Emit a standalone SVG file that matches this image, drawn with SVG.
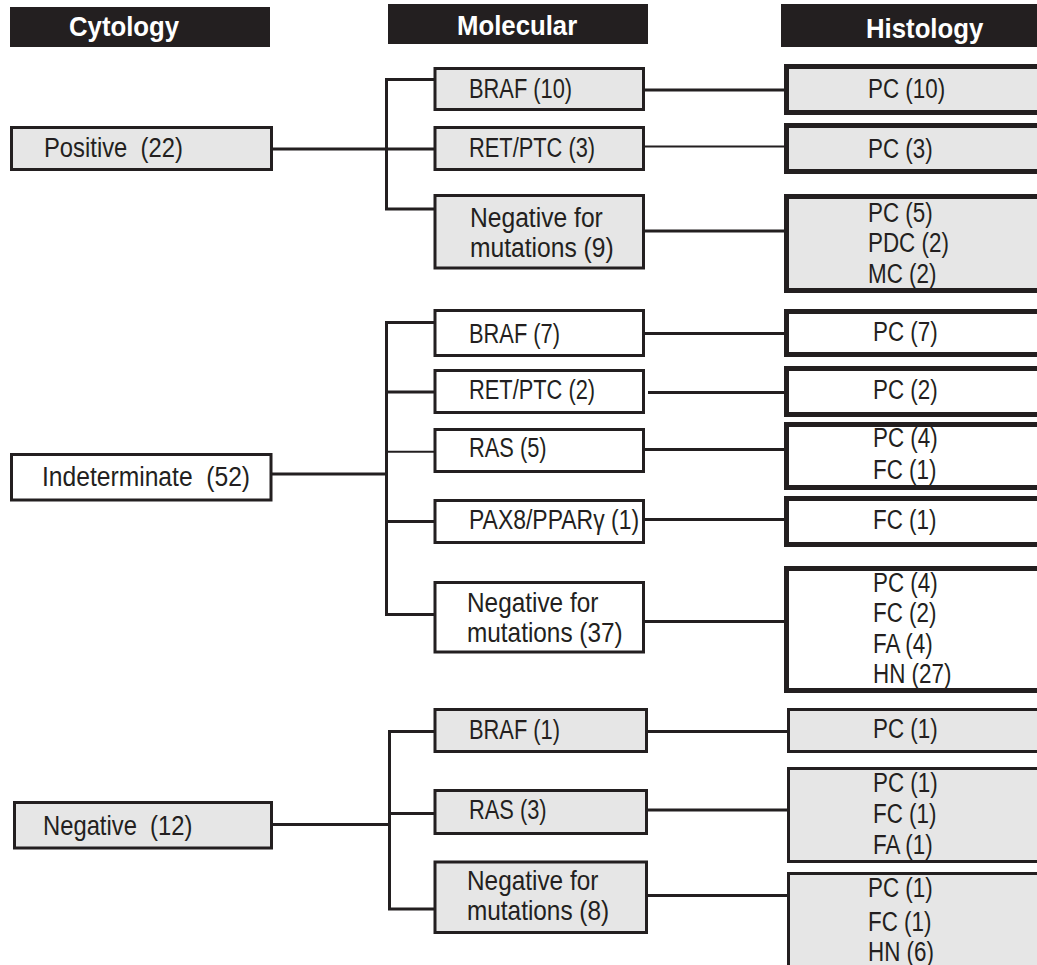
<svg xmlns="http://www.w3.org/2000/svg" width="1037" height="965" viewBox="0 0 1037 965">
<style>
.hdr{fill:#231f20}
.ht{font-family:"Liberation Sans",Arial,sans-serif;font-weight:bold;font-size:28px;fill:#ffffff}
.t{font-family:"Liberation Sans",Arial,sans-serif;font-size:28px;fill:#231f20}
.g{fill:#e6e6e6}
.w{fill:#ffffff}
.b3{stroke:#231f20;stroke-width:3}
.b5{stroke:#231f20;stroke-width:5}
.c{fill:none;stroke:#231f20;stroke-width:3}
.c2{fill:none;stroke:#231f20;stroke-width:2}
</style>
<rect width="1037" height="965" fill="#ffffff"/>
<g id="connectors">
<path class="c" d="M271.5 149 H435 M435 79.5 H386.5 V209 H435"/>
<path class="c" d="M643.5 90 H786.5 M643.5 231 H786.5"/>
<path class="c2" d="M643.5 146.5 H786.5"/>
<path class="c" d="M271 474 H386.5 M435 322.5 H386.5 V614.5 H435 M386.5 392 H435 M386.5 521.5 H435"/>
<path class="c2" d="M386.5 451.8 H435"/>
<path class="c" d="M643.5 333.5 H786.5 M648 392.5 H786.5 M643.5 449.5 H786.5 M643.5 519.5 H786.5 M643.5 621.5 H786.5"/>
<path class="c" d="M271.5 824.5 H389.5 M435 731.5 H389.5 V909 H435 M389.5 813.5 H435"/>
<path class="c" d="M646.5 731.5 H788.5 M646.5 810 H788.5 M646.5 895.5 H788.5"/>
</g>
<g id="hdr-cytology"><rect class="hdr" x="10" y="7" width="260" height="40"/><text class="ht" transform="translate(69,36) scale(0.92,1)">Cytology</text></g>
<g id="hdr-molecular"><rect class="hdr" x="388" y="4" width="260" height="40"/><text class="ht" transform="translate(457,35) scale(0.92,1)">Molecular</text></g>
<g id="hdr-histology"><rect class="hdr" x="781" y="4" width="260" height="43"/><text class="ht" transform="translate(866,38) scale(0.92,1)">Histology</text></g>

<g id="cyto-positive"><rect class="g b3" x="11.5" y="127.5" width="260" height="42"/><text class="t" xml:space="preserve" transform="translate(44,157) scale(0.85,1)">Positive  (22)</text></g>
<g id="cyto-indeterminate"><rect class="w b3" x="11.5" y="454.5" width="259.5" height="45.5"/><text class="t" xml:space="preserve" transform="translate(42,486) scale(0.88,1)">Indeterminate  (52)</text></g>
<g id="cyto-negative"><rect class="g b3" x="14.5" y="802.5" width="257" height="45.5"/><text class="t" xml:space="preserve" transform="translate(43,835) scale(0.85,1)">Negative  (12)</text></g>

<g id="mol-pos-braf"><rect class="g b3" x="435" y="68.5" width="208.5" height="41"/><text class="t" transform="translate(469,98) scale(0.78,1)">BRAF (10)</text></g>
<g id="mol-pos-retptc"><rect class="g b3" x="435" y="127.5" width="208.5" height="42"/><text class="t" transform="translate(469,157) scale(0.78,1)">RET/PTC (3)</text></g>
<g id="mol-pos-neg"><rect class="g b3" x="435" y="195.5" width="208.5" height="72.5"/><text class="t" transform="translate(470,227) scale(0.88,1)"><tspan x="0" y="0">Negative for</tspan><tspan x="0" y="30">mutations (9)</tspan></text></g>
<g id="mol-ind-braf"><rect class="w b3" x="435" y="310.5" width="208.5" height="45"/><text class="t" transform="translate(469,343) scale(0.78,1)">BRAF (7)</text></g>
<g id="mol-ind-retptc"><rect class="w b3" x="435" y="370.5" width="208.5" height="42"/><text class="t" transform="translate(469,399) scale(0.78,1)">RET/PTC (2)</text></g>
<g id="mol-ind-ras"><rect class="w b3" x="435" y="429.5" width="208.5" height="42"/><text class="t" transform="translate(469,457) scale(0.78,1)">RAS (5)</text></g>
<g id="mol-ind-pax8"><rect class="w b3" x="435" y="500.5" width="208.5" height="42"/><text class="t" transform="translate(469,529) scale(0.82,1)">PAX8/PPARγ (1)</text></g>
<g id="mol-ind-neg"><rect class="w b3" x="435" y="582.5" width="208.5" height="69.5"/><text class="t" transform="translate(467,612) scale(0.87,1)"><tspan x="0" y="0">Negative for</tspan><tspan x="0" y="30">mutations (37)</tspan></text></g>
<g id="mol-neg-braf"><rect class="g b3" x="435" y="709.5" width="211.5" height="42"/><text class="t" transform="translate(469,739) scale(0.78,1)">BRAF (1)</text></g>
<g id="mol-neg-ras"><rect class="g b3" x="435" y="790.5" width="211.5" height="43"/><text class="t" transform="translate(469,819) scale(0.78,1)">RAS (3)</text></g>
<g id="mol-neg-neg"><rect class="g b3" x="435" y="862" width="211.5" height="70.5"/><text class="t" transform="translate(467,890) scale(0.87,1)"><tspan x="0" y="0">Negative for</tspan><tspan x="0" y="30">mutations (8)</tspan></text></g>

<g id="his-1"><rect class="g b5" x="786.5" y="66.5" width="300" height="46"/><text class="t" transform="translate(868,98) scale(0.8,1)">PC (10)</text></g>
<g id="his-2"><rect class="g b5" x="786.5" y="125.5" width="300" height="46"/><text class="t" transform="translate(868,158) scale(0.8,1)">PC (3)</text></g>
<g id="his-3"><rect class="g b5" x="786.5" y="196.5" width="300" height="94"/><text class="t" transform="translate(868,222) scale(0.8,1)"><tspan x="0" y="0">PC (5)</tspan><tspan x="0" y="30">PDC (2)</tspan><tspan x="0" y="61">MC (2)</tspan></text></g>
<g id="his-4"><rect class="w b5" x="786.5" y="311.5" width="300" height="43"/><text class="t" transform="translate(873,341) scale(0.8,1)">PC (7)</text></g>
<g id="his-5"><rect class="w b5" x="786.5" y="368.5" width="300" height="46"/><text class="t" transform="translate(873,399) scale(0.8,1)">PC (2)</text></g>
<g id="his-6"><rect class="w b5" x="786.5" y="424.5" width="300" height="63"/><text class="t" transform="translate(873,447) scale(0.8,1)"><tspan x="0" y="0">PC (4)</tspan><tspan x="0" y="32">FC (1)</tspan></text></g>
<g id="his-7"><rect class="w b5" x="786.5" y="498.5" width="300" height="46"/><text class="t" transform="translate(873,529) scale(0.8,1)">FC (1)</text></g>
<g id="his-8"><rect class="w b5" x="786.5" y="568.5" width="300" height="122"/><text class="t" transform="translate(873,592) scale(0.8,1)"><tspan x="0" y="0">PC (4)</tspan><tspan x="0" y="30">FC (2)</tspan><tspan x="0" y="61">FA (4)</tspan><tspan x="0" y="91">HN (27)</tspan></text></g>
<g id="his-9"><rect class="g b3" x="788.5" y="709.5" width="300" height="42"/><text class="t" transform="translate(873,738) scale(0.8,1)">PC (1)</text></g>
<g id="his-10"><rect class="g b3" x="788.5" y="768.5" width="300" height="93"/><text class="t" transform="translate(873,792) scale(0.8,1)"><tspan x="0" y="0">PC (1)</tspan><tspan x="0" y="31">FC (1)</tspan><tspan x="0" y="62">FA (1)</tspan></text></g>
<g id="his-11"><rect class="g b3" x="788.5" y="873.5" width="300" height="100"/><text class="t" transform="translate(868,897) scale(0.8,1)"><tspan x="0" y="0">PC (1)</tspan><tspan x="0" y="34">FC (1)</tspan><tspan x="0" y="64">HN (6)</tspan></text></g>
</svg>
